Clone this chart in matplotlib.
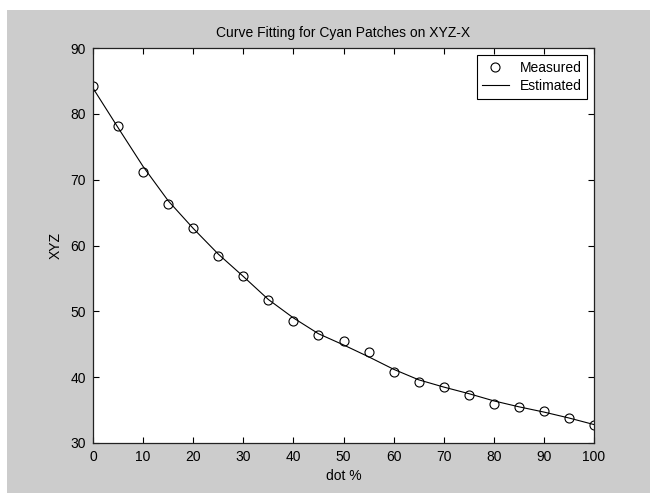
import matplotlib
matplotlib.use("Agg")
import matplotlib.pyplot as plt
from matplotlib.patches import Rectangle

# dot percentage
dot = [0, 5, 10, 15, 20, 25, 30, 35, 40, 45, 50, 55, 60, 65, 70, 75, 80, 85, 90, 95, 100]
# measured XYZ-X values (circles)
measured = [84.3, 78.1, 71.1, 66.3, 62.6, 58.4, 55.4, 51.7, 48.6, 46.4, 45.5,
            43.8, 40.8, 39.3, 38.5, 37.3, 35.9, 35.5, 34.8, 33.8, 32.7]
# estimated (fitted) curve
estimated = [83.9, 77.9, 72.0, 66.8, 62.6, 58.7, 55.3, 51.8, 49.0, 46.6, 44.9,
             43.1, 41.2, 39.6, 38.5, 37.5, 36.4, 35.5, 34.7, 33.8, 32.8]

xticks = [0, 10, 20, 30, 40, 50, 60, 70, 80, 90, 100]
yticks = [30, 40, 50, 60, 70, 80, 90]

plt.rcParams['font.family'] = ['Liberation Sans', 'DejaVu Sans']
plt.rcParams['font.size'] = 10

W, H = 650, 493
fig = plt.figure(figsize=(W / 100, H / 100), dpi=100, facecolor='white')
# grey window background, with thin white strip top/left as in the screenshot
fig.patches.append(Rectangle((7 / W, 0), 1, (H - 10) / H, transform=fig.transFigure,
                             facecolor='#cccccc', edgecolor='none', zorder=-10))

ax = fig.add_axes([93 / W, (H - 443) / H, (594 - 93) / W, (443 - 48) / H])
ax.set_facecolor('white')

ax.plot(dot, measured, linestyle='none', marker='o', markersize=6.5,
        markerfacecolor='none', markeredgecolor='black', markeredgewidth=0.8,
        label='Measured')
ax.plot(dot, estimated, color='black', linewidth=0.8, label='Estimated')

ax.set_xlim(0, 100)
ax.set_ylim(30, 90)
ax.set_xticks(xticks)
ax.set_yticks(yticks)
ax.tick_params(direction='in', length=4, width=0.8, top=True, right=True,
               labelsize=10, pad=5, colors='black')
for s in ax.spines.values():
    s.set_linewidth(0.9)
    s.set_color('#222222')

ax.set_xlabel('dot %', fontsize=10, labelpad=4)
ax.set_ylabel('XYZ', fontsize=10, labelpad=6)
ax.set_title('Curve Fitting for Cyan Patches on XYZ-X', fontsize=10, pad=8)

leg = ax.legend(loc='upper right', fontsize=10, fancybox=False, framealpha=1,
                edgecolor='black', handlelength=1.9, handletextpad=0.8,
                labelspacing=0.35, borderpad=0.4, borderaxespad=0.5)
leg.get_frame().set_linewidth(0.8)

fig.savefig('out.png', dpi=100, facecolor=fig.get_facecolor())
